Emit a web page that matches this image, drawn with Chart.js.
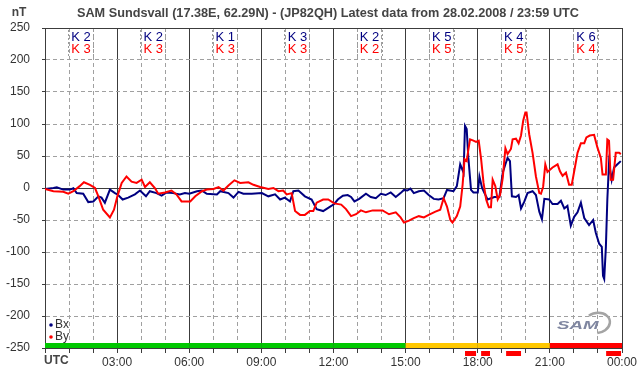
<!DOCTYPE html>
<html>
<head>
<meta charset="utf-8">
<script src="https://cdn.jsdelivr.net/npm/chart.js@4"></script>
<style>
  html, body { margin: 0; padding: 0; background: #fff; }
  #wrap { width: 642px; height: 376px; }
</style>
</head>
<body>
<div id="wrap"><canvas id="samChart"></canvas></div>
<script>
// magnetometer data, hours UTC / nT
const bxTimes = [0.00, 0.35, 0.49, 0.76, 1.04, 1.18, 1.32, 1.59, 1.80, 2.01, 2.22, 2.35, 2.49, 2.70, 2.91, 3.01, 3.23, 3.46, 3.74, 3.95,
  4.20, 4.36, 4.64, 4.85, 5.06, 5.33, 5.61, 5.82, 6.00, 6.32, 6.53, 6.73, 7.15, 7.29, 7.63, 7.84, 8.05, 8.25, 8.60, 9.02,
  9.29, 9.57, 9.78, 9.98, 10.19, 10.33, 10.54, 10.81, 11.09, 11.30, 11.57, 11.78, 12.03, 12.18, 12.39, 12.59, 12.73, 12.87, 13.07, 13.35,
  13.55, 13.76, 13.97, 14.17, 14.38, 14.59, 14.79, 14.93, 15.07, 15.20, 15.34, 15.55, 15.76, 15.96, 16.17, 16.37, 16.58, 16.72, 16.99, 17.13,
  17.27, 17.41, 17.47, 17.54, 17.61, 17.72, 17.82, 18.00, 18.07, 18.18, 18.28, 18.41, 18.55, 18.69, 18.90, 19.04, 19.15, 19.24, 19.34, 19.42,
  19.59, 19.70, 19.80, 19.94, 20.07, 20.28, 20.42, 20.56, 20.67, 20.77, 20.97, 21.11, 21.32, 21.46, 21.60, 21.73, 21.87, 22.01, 22.15, 22.29,
  22.43, 22.63, 22.80, 22.91, 23.05, 23.16, 23.21, 23.26, 23.33, 23.39, 23.46, 23.57, 23.67, 23.81, 23.95];
const bxValues = [-1.5, 0, 1, -2.5, -2.5, -0.5, -8, -9, -22, -21, -13, -15, -23, -2.5, -8, -10, -18, -15, -10, -4,
  -13, -5, -8, -12, -7, -8, -10, -8, -9, -5, -4, -9, -10, -5, -8, -15, -6, -9, -9, -8,
  -13, -10, -18, -15, -21, -5, -4, -13, -18, -33, -36, -31, -25, -18, -12, -11, -14, -21, -17, -9,
  -14, -16, -9, -11, -7, -14, -8, -3, -4, -1, -8, -5, -4, -11, -17, -18, -16, -3, -5, 3,
  37, 24, 97, 92, 47, -3, -7, -7, 18, 0, -8, -18, -16, -14, -14, 24, 37, 47, 42, -13,
  -14, -11, -32, -21, -8, -5, -11, -37, -49, -17, -18, -25, -25, -20, -32, -28, -59, -45, -38, -23,
  -47, -58, -50, -70, -87, -92, -137, -142, -92, -18, 39, 13, 32, 37, 42];

const byTimes = [0.00, 0.35, 0.76, 0.97, 1.18, 1.43, 1.62, 1.87, 2.08, 2.22, 2.42, 2.70, 2.87, 3.01, 3.19, 3.39, 3.60, 3.81, 4.02, 4.16,
  4.36, 4.57, 4.71, 4.99, 5.26, 5.47, 5.68, 6.04, 6.25, 6.53, 6.73, 7.01, 7.22, 7.42, 7.63, 7.88, 8.12, 8.46, 8.67, 8.95,
  9.29, 9.50, 9.71, 9.91, 10.05, 10.26, 10.40, 10.61, 10.81, 11.02, 11.16, 11.30, 11.57, 11.78, 12.03, 12.32, 12.52, 12.73, 12.94, 13.14,
  13.35, 13.63, 14.04, 14.31, 14.59, 14.79, 14.93, 15.14, 15.34, 15.55, 15.76, 15.96, 16.24, 16.44, 16.58, 16.72, 16.86, 16.95, 17.13, 17.27,
  17.37, 17.45, 17.54, 17.61, 17.68, 17.82, 17.93, 18.04, 18.14, 18.24, 18.35, 18.46, 18.55, 18.62, 18.73, 18.83, 18.93, 19.04, 19.15, 19.24,
  19.38, 19.45, 19.59, 19.70, 19.80, 19.89, 19.98, 20.03, 20.14, 20.28, 20.42, 20.56, 20.63, 20.72, 20.81, 20.90, 21.11, 21.32, 21.42, 21.53,
  21.67, 21.80, 21.91, 22.05, 22.15, 22.29, 22.43, 22.52, 22.66, 22.84, 22.98, 23.12, 23.19, 23.33, 23.39, 23.46, 23.53, 23.63, 23.74, 23.88, 23.95];
const byValues = [-1.5, -5, -6, -9, -5, 2.5, 9, 5, 0, -13, -34, -46, -34, -13, 8, 18, 10, 8, 13, 1.5,
  9, 0, -9, -7, -4, -10, -21, -21, -13, -5, -2.5, -1.5, 1.5, -4, 4, 12, 8, 9, 5, 1.5,
  -1.5, 0, -5, -4, -10, -8, -36, -42, -42, -36, -36, -23, -18, -18, -24, -26, -33, -44, -41, -35,
  -38, -35, -35, -41, -38, -46, -54, -51, -47, -44, -46, -42, -37, -34, -16, -29, -50, -54, -44, -29,
  5, 45, 42, 60, 76, 74, 72, 74, 45, 8, -18, -30, -30, 13, 3, -18, -11, 16, 62, 53,
  61, 76, 77, 70, 82, 105, 118, 118, 84, 55, 18, -8, -9, 2, 37, 25, 32, 37, 26, 19,
  24, 5, 5, 34, 55, 70, 70, 79, 82, 83, 63, 47, 21, 21, 76, 74, 13, 13, 55, 55, 53];

// K index per 3-hour block
const kBx = [2, 2, 1, 3, 2, 5, 4, 6];
const kBy = [3, 3, 3, 3, 2, 5, 5, 4];

const timeLabels = ["UTC", "03:00", "06:00", "09:00", "12:00", "15:00", "18:00", "21:00", "00:00"];

// red marks under the axis
const alertStart = [17.47, 18.14, 19.18, 23.34];
const alertEnd = [17.93, 18.51, 19.80, 23.96];

const titleText = "SAM Sundsvall (17.38E, 62.29N) - (JP82QH) Latest data from 28.02.2008 / 23:59 UTC";

const FONT = '"Liberation Sans", Arial, sans-serif';
const DARK = '#3c3c3c';
const GRID = '#a0a0a0';

const samExtras = {
  id: 'samExtras',
  beforeDatasetsDraw(chart) {
    const { ctx, chartArea, scales: { x } } = chart;
    ctx.save();
    // activity strip along the bottom
    for (let i = 0; i < kBx.length; i++) {
      const k = Math.max(kBx[i], kBy[i]);
      ctx.fillStyle = k >= 6 ? '#ff0000' : (k >= 4 ? '#ffc800' : '#00c800');
      const x1 = x.getPixelForValue(i * 3);
      const x2 = x.getPixelForValue(i * 3 + 3);
      ctx.fillRect(x1, chartArea.bottom - 5, x2 - x1, 5);
    }
    ctx.restore();
  },
  afterDraw(chart) {
    const { ctx, chartArea, scales: { x } } = chart;
    ctx.save();

    // title + unit
    ctx.fillStyle = '#444';
    ctx.font = 'bold 12.7px ' + FONT;
    ctx.textAlign = 'center';
    ctx.textBaseline = 'middle';
    ctx.fillText(titleText, 328, 13);
    ctx.font = 'bold 12px ' + FONT;
    ctx.fillText('nT', 19, 13);

    // UTC label at start of axis
    ctx.textAlign = 'left';
    ctx.fillText(timeLabels[0], x.getPixelForValue(0) - 1, 361);

    // K indices
    ctx.font = '13px ' + FONT;
    ctx.textAlign = 'center';
    for (let i = 0; i < kBx.length; i++) {
      const cx = (x.getPixelForValue(i * 3) + x.getPixelForValue(i * 3 + 3)) / 2;
      ctx.fillStyle = '#000080';
      ctx.fillText('K ' + kBx[i], cx, 37);
      ctx.fillStyle = '#ff0000';
      ctx.fillText('K ' + kBy[i], cx, 49);
      ctx.strokeStyle = '#999';
      ctx.lineWidth = 1;
      ctx.setLineDash([2, 2]);
      ctx.beginPath();
      ctx.moveTo(Math.round(cx - 13) + 0.5, 30);
      ctx.lineTo(Math.round(cx - 13) + 0.5, 57);
      ctx.moveTo(Math.round(cx + 12) + 0.5, 30);
      ctx.lineTo(Math.round(cx + 12) + 0.5, 57);
      ctx.stroke();
      ctx.setLineDash([]);
    }

    // legend inside plot
    ctx.font = '12px ' + FONT;
    ctx.textAlign = 'left';
    chart.data.datasets.forEach((ds, i) => {
      const ly = chartArea.bottom - 23 + i * 12;
      ctx.fillStyle = ds.borderColor;
      ctx.beginPath();
      ctx.arc(chartArea.left + 6, ly, 1.8, 0, Math.PI * 2);
      ctx.fill();
      ctx.fillStyle = '#333';
      ctx.fillText(ds.label, chartArea.left + 10, ly);
    });

    // alert marks
    ctx.fillStyle = '#ff0000';
    for (let i = 0; i < alertStart.length; i++) {
      const x1 = x.getPixelForValue(alertStart[i]);
      const x2 = x.getPixelForValue(alertEnd[i]);
      ctx.fillRect(x1, chartArea.bottom + 3, x2 - x1, 5);
    }

    // SAM logo
    ctx.strokeStyle = '#a4a4a4';
    ctx.lineWidth = 2.5;
    ctx.beginPath();
    ctx.ellipse(597, 323, 13, 10, -0.2, -2.1, 1.7);
    ctx.stroke();
    ctx.translate(557, 329);
    ctx.scale(1.7, 1);
    ctx.font = 'italic bold 11px ' + FONT;
    ctx.fillStyle = '#7f86a0';
    ctx.textBaseline = 'alphabetic';
    ctx.fillText('SAM', 0, 0);

    ctx.restore();
  }
};

const data = {
  datasets: [
    {
      label: 'Bx',
      borderColor: '#000080',
      backgroundColor: '#000080',
      data: bxTimes.map((t, i) => ({ x: t, y: bxValues[i] })),
      borderWidth: 2,
      pointRadius: 0,
      fill: false,
      order: 2,
    },
    {
      label: 'By',
      borderColor: '#ff0000',
      backgroundColor: '#ff0000',
      data: byTimes.map((t, i) => ({ x: t, y: byValues[i] })),
      borderWidth: 2,
      pointRadius: 0,
      fill: false,
      order: 1,
    },
  ],
};

const config = {
  type: 'line',
  data: data,
  options: {
    maintainAspectRatio: false,
    responsive: true,
    animation: false,
    layout: { padding: { top: 28, right: 20, left: 0, bottom: 0 } },
    plugins: {
      legend: { display: false },
      tooltip: { enabled: false },
    },
    scales: {
      x: {
        type: 'linear',
        min: 0,
        max: 24,
        afterFit: s => { s.height = 28; },
        ticks: {
          stepSize: 1,
          autoSkip: false,
          maxRotation: 0,
          minRotation: 0,
          padding: 2,
          color: '#333',
          font: { family: FONT, size: 12 },
          callback: v => (v % 3 === 0 && v > 0) ? timeLabels[v / 3] : '',
        },
        grid: {
          color: c => (c.tick && c.tick.value % 3 === 0) ? DARK : GRID,
          tickColor: DARK,
          tickLength: 5,
        },
        border: {
          color: DARK,
          dash: c => (c.tick && c.tick.value % 3 === 0) ? [] : [4, 3],
        },
      },
      y: {
        min: -250,
        max: 250,
        afterFit: s => { s.width = 45; },
        ticks: {
          stepSize: 50,
          padding: 12,
          color: '#333',
          font: { family: FONT, size: 12 },
        },
        grid: {
          color: c => (c.tick && c.tick.value % 250 === 0) ? DARK : GRID,
          tickColor: DARK,
          tickLength: 3,
        },
        border: {
          color: DARK,
          dash: c => (c.tick && c.tick.value % 250 === 0) ? [] : [4, 3],
        },
      },
    },
  },
  plugins: [samExtras],
};

const ctx = document.getElementById('samChart').getContext('2d');
const samChart = new Chart(ctx, config);
</script>
</body>
</html>
